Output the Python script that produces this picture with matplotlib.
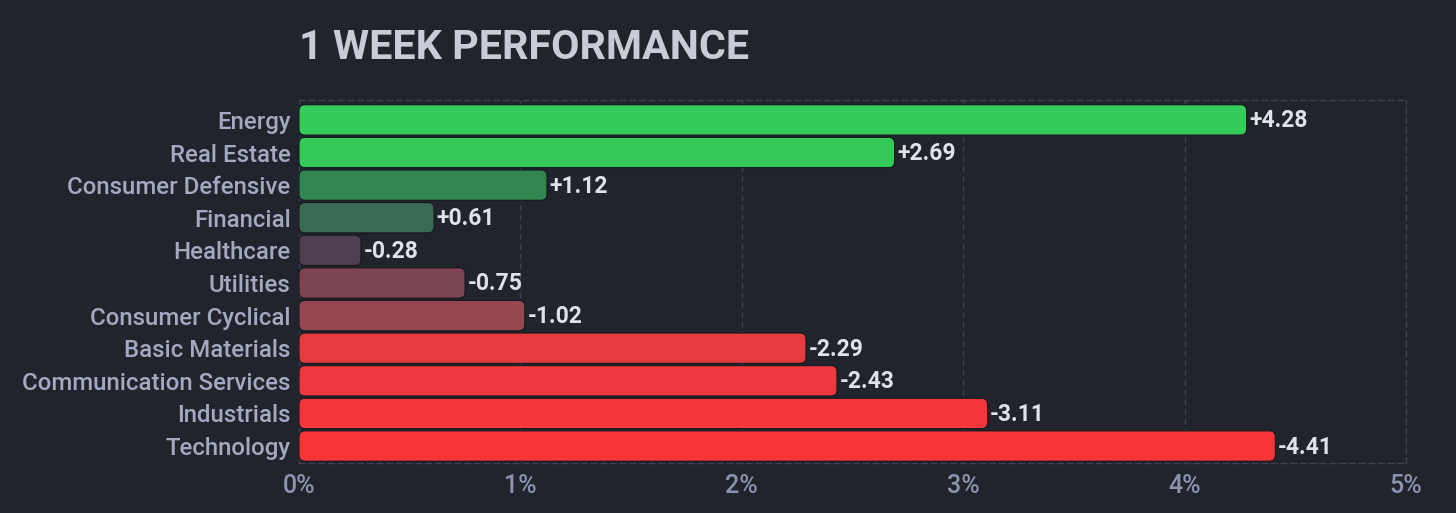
import matplotlib.pyplot as plt
from matplotlib.patches import FancyBboxPatch

sectores = ['Energy', 'Real Estate', 'Consumer Defensive', 'Financial', 'Healthcare',
            'Utilities', 'Consumer Cyclical', 'Basic Materials',
            'Communication Services', 'Industrials', 'Technology']
valores = [4.28, 2.69, 1.12, 0.61, -0.28, -0.75, -1.02, -2.29, -2.43, -3.11, -4.41]
colores = ['#34cc5a', '#34ca5a', '#338550', '#3a6b52', '#503f50', '#7e4452',
           '#964852', '#e53b3e', '#ee3a3e', '#f5363c', '#f83539']
ticks_x = [0, 1, 2, 3, 4, 5]
etiquetas_x = ['0%', '1%', '2%', '3%', '4%', '5%']

fondo = '#21242d'
fuente = 'Roboto'

fig = plt.figure(figsize=(14.56, 5.13), dpi=100, facecolor=fondo)
ax = fig.add_axes([299 / 1456, 1 - 463 / 513, 1107 / 1456, 363 / 513])
ax.set_facecolor(fondo)

alto = 0.93
# radio en px -> unidades de datos
px_x = 5 / 1107
px_y = 11.13 / 363
aspecto = px_y / px_x
for i, (v, c) in enumerate(zip(valores, colores)):
    largo = abs(v)
    caja = FancyBboxPatch((0, i - alto / 2), largo, alto,
                          boxstyle=f'round,pad=0,rounding_size={6 * px_x}',
                          mutation_aspect=aspecto, facecolor=c,
                          edgecolor='#15171d', linewidth=0.8, zorder=3)
    ax.add_patch(caja)
    texto = f'{v:+.2f}'
    ax.text(largo + 0.012, i + 0.03, texto, va='center', ha='left', color='#dfe2ea',
            fontsize=16.5, fontweight='bold', family=fuente, zorder=4)

ax.set_xlim(0, 5)
ax.set_ylim(10.52, -0.61)
ax.set_yticks(range(len(sectores)))
ax.set_yticklabels(sectores, family=fuente, fontsize=17.3, fontweight='medium', color='#a3a9be')
ax.set_xticks(ticks_x)
ax.set_xticklabels(etiquetas_x, family=fuente, fontsize=18, fontweight='medium', color='#8c94ad')
ax.tick_params(length=0)
ax.tick_params(axis='x', pad=8)
ax.tick_params(axis='y', pad=6)

ax.grid(axis='x', color='#3f434f', linestyle=(0, (4, 3)), linewidth=1, zorder=1)
for lado in ['top', 'bottom', 'right']:
    ax.spines[lado].set_color('#3f434f')
    ax.spines[lado].set_linestyle((0, (4, 3)))
    ax.spines[lado].set_linewidth(1)
ax.spines['left'].set_visible(False)

fig.text(299 / 1456, 1 - 48 / 513, '1 WEEK PERFORMANCE', family=fuente,
         fontsize=29.7, fontweight='bold', color='#c8ccd6', va='center', ha='left')

fig.savefig('out.png', dpi=100, facecolor=fondo)
